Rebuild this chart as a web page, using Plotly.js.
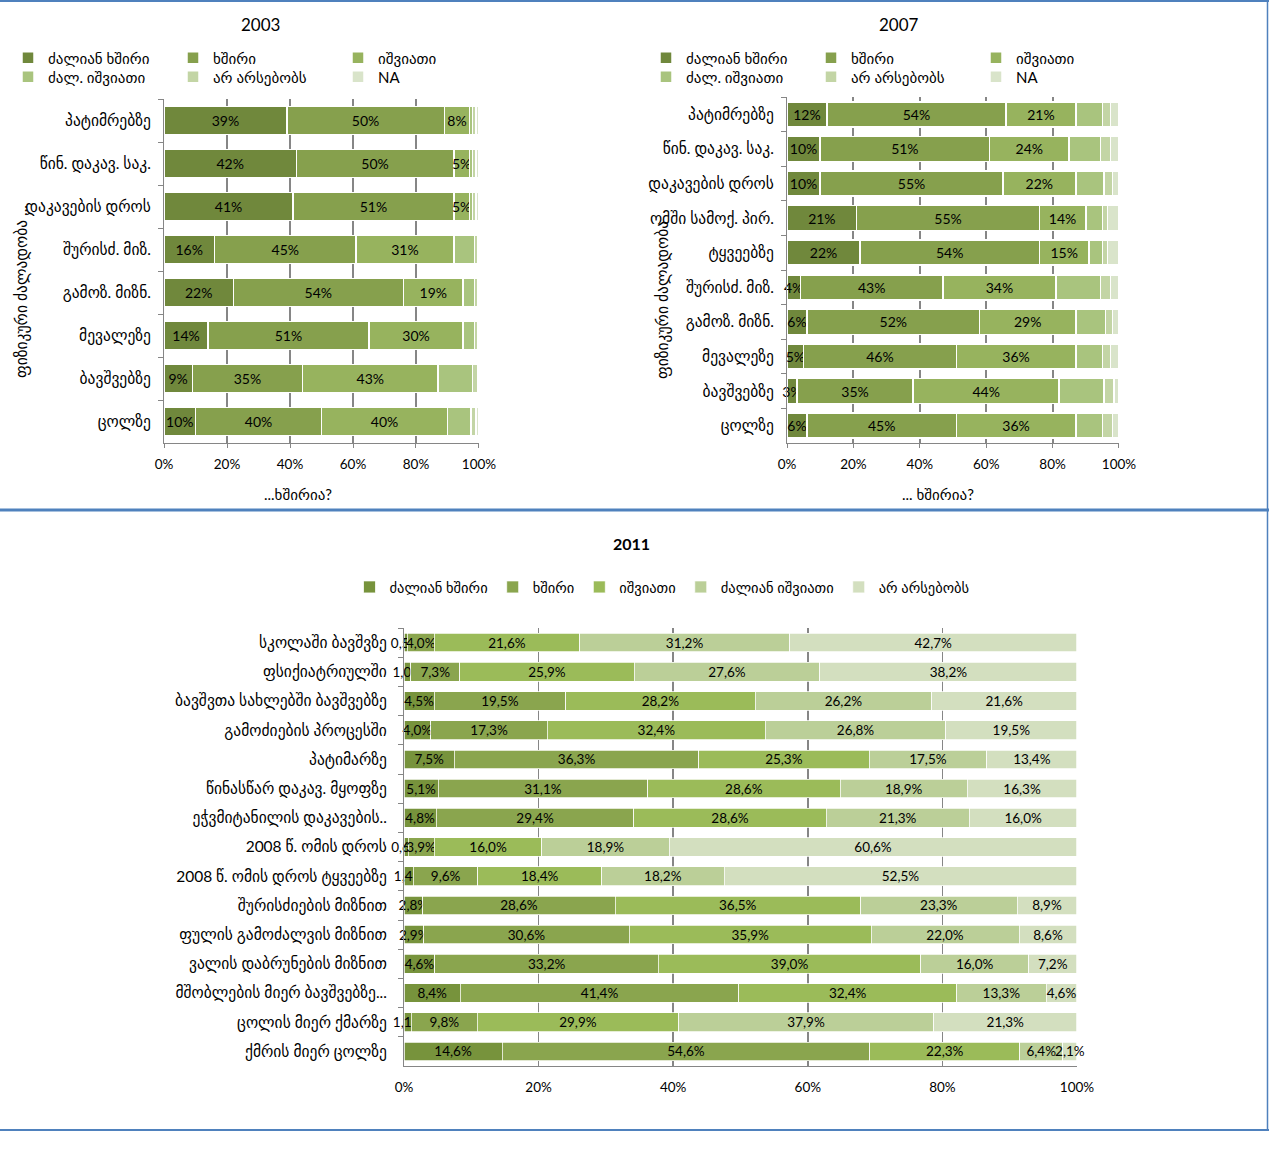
<!DOCTYPE html>
<html>
<head>
<meta charset="utf-8">
<script src="https://cdn.plot.ly/plotly-3.0.1.min.js"></script>
<style>
  html, body { margin: 0; padding: 0; background: #fff; }
  #chart { width: 1269px; height: 1174px; }
</style>
</head>
<body>
<div id="chart"></div>
<script>
// ---------- DATA ----------
const cats2003 = ['პატიმრებზე', 'წინ. დაკავ. საკ.', 'დაკავების დროს', 'შურისძ. მიზ.', 'გამოზ. მიზნ.', 'მევალეზე', 'ბავშვებზე', 'ცოლზე'];
const v03_vfreq = [39, 42, 41, 16, 22, 14, 9, 10];
const v03_freq  = [50, 50, 51, 45, 54, 51, 35, 40];
const v03_rare  = [8, 5, 5, 31, 19, 30, 43, 40];
const v03_vrare = [1, 1, 1, 6.5, 3.5, 3.5, 11, 7.5];
const v03_none  = [1, 1, 1, 1, 1, 1, 1.5, 1.5];
const v03_na    = [1, 1, 1, 0.5, 0.5, 0.5, 0.5, 1];

const cats2007 = ['პატიმრებზე', 'წინ. დაკავ. საკ.', 'დაკავების დროს', 'ომში სამოქ. პირ.', 'ტყვეებზე', 'შურისძ. მიზ.', 'გამოზ. მიზნ.', 'მევალეზე', 'ბავშვებზე', 'ცოლზე'];
const v07_vfreq = [12, 10, 10, 21, 22, 4, 6, 5, 3, 6];
const v07_freq  = [54, 51, 55, 55, 54, 43, 52, 46, 35, 45];
const v07_rare  = [21, 24, 22, 14, 15, 34, 29, 36, 44, 36];
const v07_vrare = [8, 9.5, 8.5, 5, 4, 13.5, 9, 8, 13.5, 8];
const v07_none  = [2.5, 3, 2.5, 1.5, 1.5, 3, 2, 2.5, 3, 3];
const v07_na    = [2.5, 2.5, 2, 3.5, 3.5, 2.5, 2, 2.5, 1.5, 2];

const names0307 = ['ძალიან ხშირი', 'ხშირი', 'იშვიათი', 'ძალ. იშვიათი', 'არ არსებობს', 'NA'];

const cats2011 = ['სკოლაში ბავშვზე', 'ფსიქიატრიულში', 'ბავშვთა სახლებში ბავშვებზე', 'გამოძიების პროცესში', 'პატიმარზე', 'წინასწარ დაკავ. მყოფზე', 'ეჭვმიტანილის დაკავების..', '2008 წ. ომის დროს', '2008 წ. ომის დროს ტყვეებზე', 'შურისძიების მიზნით', 'ფულის გამოძალვის მიზნით', 'ვალის დაბრუნების მიზნით', 'მშობლების მიერ ბავშვებზე...', 'ცოლის მიერ ქმარზე', 'ქმრის მიერ ცოლზე'];
const v11_vfreq = [0.5, 1.0, 4.5, 4.0, 7.5, 5.1, 4.8, 0.6, 1.4, 2.8, 2.9, 4.6, 8.4, 1.1, 14.6];
const v11_freq  = [4.0, 7.3, 19.5, 17.3, 36.3, 31.1, 29.4, 3.9, 9.6, 28.6, 30.6, 33.2, 41.4, 9.8, 54.6];
const v11_rare  = [21.6, 25.9, 28.2, 32.4, 25.3, 28.6, 28.6, 16.0, 18.4, 36.5, 35.9, 39.0, 32.4, 29.9, 22.3];
const v11_vrare = [31.2, 27.6, 26.2, 26.8, 17.5, 18.9, 21.3, 18.9, 18.2, 23.3, 22.0, 16.0, 13.3, 37.9, 6.4];
const v11_none  = [42.7, 38.2, 21.6, 19.5, 13.4, 16.3, 16.0, 60.6, 52.5, 8.9, 8.6, 7.2, 4.6, 21.3, 2.1];
const names2011 = ['ძალიან ხშირი', 'ხშირი', 'იშვიათი', 'ძალიან იშვიათი', 'არ არსებობს'];

// ---------- STYLE ----------
const W = 1269, H = 1174;
const FONT = 'Lato, "DejaVu Sans", sans-serif';
const px = x => x / W;
const py = y => 1 - y / H;
const cols0307 = ['#70883c', '#86a04d', '#97b35e', '#a9c47e', '#c3d5a5', '#d9e4ca'];
const cols2011 = ['#77933c', '#8aa54e', '#9bbb59', '#bbcf98', '#d3dfbf'];

const traces = [];
function addSet(cats, series, names, cols, xa, ya, legs, width, labelled, fmt, lineW, tsize) {
  series.forEach((vals, i) => {
    const t = {
      type: 'bar', orientation: 'h',
      y: cats, x: vals, name: names[i],
      xaxis: xa, yaxis: ya, legend: legs[i],
      width: width, cliponaxis: false,
      marker: { color: cols[i], line: { color: '#ffffff', width: lineW } },
      hoverinfo: 'x+y+name'
    };
    if (labelled[i]) {
      t.text = vals.map(fmt);
      t.textposition = 'inside';
      t.insidetextanchor = 'middle';
      t.textangle = 0;
      t.constraintext = 'none';
      t.insidetextfont = { color: '#000', size: tsize, family: FONT };
      t.outsidetextfont = { color: '#000', size: tsize, family: FONT };
    } else {
      t.textposition = 'none';
    }
    traces.push(t);
  });
}
const fmtInt = v => Math.round(v) + '%';
const fmtDec = v => v.toFixed(1).replace('.', ',') + '%';

addSet(cats2003, [v03_vfreq, v03_freq, v03_rare, v03_vrare, v03_none, v03_na], names0307, cols0307,
  'x', 'y', ['legend', 'legend', 'legend', 'legend2', 'legend2', 'legend2'], 0.65,
  [true, true, true, false, false, false], fmtInt, 1.5, 14);
addSet(cats2007, [v07_vfreq, v07_freq, v07_rare, v07_vrare, v07_none, v07_na], names0307, cols0307,
  'x2', 'y2', ['legend3', 'legend3', 'legend3', 'legend4', 'legend4', 'legend4'], 0.72,
  [true, true, true, false, false, false], fmtInt, 1.5, 14);
addSet(cats2011, [v11_vfreq, v11_freq, v11_rare, v11_vrare, v11_none], names2011, cols2011,
  'x3', 'y3', ['legend5', 'legend5', 'legend5', 'legend5', 'legend5'], 0.64,
  [true, true, true, true, true], fmtDec, 0.75, 13.5);

function xAxis(domain, anchor, gw, showTicks) {
  return {
    domain: domain, anchor: anchor, range: [0, 100.002],
    tickvals: [0, 20, 40, 60, 80, 100], ticktext: ['0%', '20%', '40%', '60%', '80%', '100%'],
    showgrid: true, gridcolor: '#868686', gridwidth: gw, zeroline: false,
    showline: true, linecolor: '#868686', linewidth: 1,
    ticks: showTicks ? 'outside' : '', ticklen: 4, tickcolor: '#868686',
    tickfont: { size: 13.5, color: '#000', family: FONT }, ticklabelstandoff: showTicks ? 5 : 9, fixedrange: true
  };
}
function yAxis(domain, anchor, fs, standoff) {
  return {
    domain: domain, anchor: anchor, type: 'category', autorange: 'reversed',
    showgrid: false, zeroline: false, showline: true, linecolor: '#868686', linewidth: 1,
    ticks: 'outside', ticklen: 5, tickcolor: '#868686', tickson: 'boundaries',
    tickfont: { size: fs, color: '#000', family: FONT }, ticklabelstandoff: standoff, fixedrange: true
  };
}
function legendAt(x, y, xanchor, entrywidth, fs) {
  const l = {
    orientation: 'h', x: x, y: y, xanchor: xanchor, yanchor: 'middle',
    font: { size: fs, color: '#000', family: FONT }, bgcolor: 'rgba(0,0,0,0)',
    itemclick: false, itemdoubleclick: false, tracegroupgap: 0, traceorder: 'normal'
  };
  if (entrywidth) { l.entrywidth = entrywidth; l.entrywidthmode = 'pixels'; }
  return l;
}
function note(text, x, y, size, angle) {
  return { text: text, x: px(x), y: py(y), xref: 'paper', yref: 'paper', xanchor: 'center', yanchor: 'middle',
    showarrow: false, textangle: angle || 0, font: { size: size, color: '#000', family: FONT } };
}

const layout = {
  width: W, height: H,
  margin: { l: 0, r: 0, t: 0, b: 0, pad: 0 },
  paper_bgcolor: '#ffffff', plot_bgcolor: 'rgba(0,0,0,0)',
  font: { family: FONT, color: '#000' },
  barmode: 'stack', barnorm: 'percent',
  showlegend: true,
  xaxis:  xAxis([px(164), px(479)], 'y', 2, true),
  yaxis:  yAxis([py(443), py(99)], 'x', 15.5, 9),
  xaxis2: xAxis([px(787), px(1119)], 'y2', 2, true),
  yaxis2: yAxis([py(443), py(97)], 'x2', 15.5, 9),
  xaxis3: xAxis([px(404), px(1077)], 'y3', 1.5, false),
  yaxis3: yAxis([py(1066), py(628)], 'x3', 15.5, 13),
  legend:  legendAt(px(8), py(58), 'left', 120, 15),
  legend2: legendAt(px(8), py(77), 'left', 120, 15),
  legend3: legendAt(px(646), py(58), 'left', 120, 15),
  legend4: legendAt(px(646), py(77), 'left', 120, 15),
  legend5: legendAt(px(662), py(587), 'center', null, 14.5),
  annotations: [
    note('2003', 260, 25, 17),
    note('2007', 899, 25, 17),
    note('<b>2011</b>', 631, 543, 16),
    note('...ხშირია?', 298, 494, 15),
    note('... ხშირია?', 938, 494, 15),
    note('ფიზიკური ძალადობა ...', 22, 292, 15.5, -90),
    note('ფიზიკური ძალადობა', 662, 300, 15.5, -90)
  ],
  shapes: [
    { type: 'line', xref: 'paper', yref: 'paper', x0: 0, x1: 1, y0: py(1), y1: py(1), line: { color: '#4f81bd', width: 2 } },
    { type: 'line', xref: 'paper', yref: 'paper', x0: 0, x1: 1, y0: py(510), y1: py(510), line: { color: '#4f81bd', width: 3 } },
    { type: 'line', xref: 'paper', yref: 'paper', x0: 0, x1: 1, y0: py(1130), y1: py(1130), line: { color: '#4f81bd', width: 2 } },
    { type: 'line', xref: 'paper', yref: 'paper', x0: px(1267.5), x1: px(1267.5), y0: py(0), y1: py(1131), line: { color: '#4f81bd', width: 1.5 } }
  ]
};

Plotly.newPlot('chart', traces, layout, { displayModeBar: false, staticPlot: true });
</script>
</body>
</html>
